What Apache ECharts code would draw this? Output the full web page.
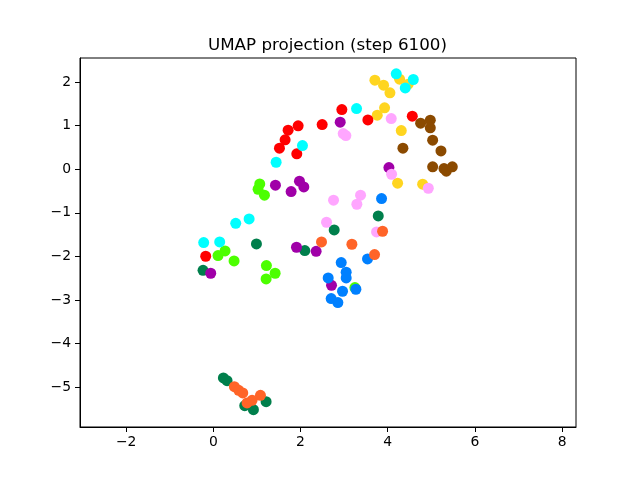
<!DOCTYPE html>
<html>
<head>
<meta charset="utf-8">
<script src="https://cdn.jsdelivr.net/npm/echarts@6/dist/echarts.min.js"></script>
<style>html,body{margin:0;padding:0;background:#fff}#c{width:640px;height:480px}</style>
</head>
<body>
<div id="c"></div>
<script>
// Data (x, y)
var classLime = [[1.064,-0.336],[1.026,-0.459],[1.172,-0.596],[0.268,-1.873],[0.107,-1.98],[0.475,-2.102],[1.217,-2.21],[1.417,-2.385],[1.21,-2.515],[3.247,-2.714]];
var classDarkGreen = [[3.783,-1.07],[2.772,-1.391],[0.988,-1.713],[2.098,-1.865],[-0.237,-2.317],[0.23,-4.786],[0.314,-4.847],[0.72,-5.42],[0.919,-5.512],[1.21,-5.329]];
var classPurple = [[2.91,1.078],[4.028,0.038],[1.424,-0.367],[1.975,-0.275],[2.075,-0.405],[1.784,-0.512],[1.907,-1.789],[2.358,-1.881],[2.711,-2.661],[-0.061,-2.385]];
var classYellow = [[3.706,2.041],[3.905,1.927],[4.051,1.751],[4.273,2.064],[4.47,1.95],[3.928,1.407],[3.76,1.239],[4.311,0.887],[4.227,-0.321],[4.801,-0.344]];
var classPink = [[2.979,0.818],[3.04,0.772],[4.081,1.162],[4.089,-0.115],[4.931,-0.436],[2.757,-0.711],[3.377,-0.596],[3.292,-0.803],[2.596,-1.216],[3.744,-1.437]];
var classBrown = [[4.755,1.055],[4.977,1.124],[4.977,0.948],[5.031,0.665],[4.349,0.482],[5.222,0.42],[5.031,0.054],[5.291,0.015],[5.345,-0.046],[5.482,0.054]];
var classRed = [[2.948,1.368],[2.496,1.024],[1.945,0.994],[1.715,0.894],[1.646,0.673],[1.516,0.482],[1.914,0.352],[3.545,1.131],[4.564,1.216],[-0.176,-1.995]];
var classBlue = [[3.859,-0.673],[3.537,-2.057],[2.933,-2.141],[3.047,-2.362],[3.047,-2.492],[2.634,-2.492],[2.963,-2.798],[3.27,-2.752],[2.703,-2.966],[2.856,-3.058]];
var classOrange = [[2.481,-1.667],[3.178,-1.72],[3.882,-1.422],[3.698,-1.957],[0.482,-4.985],[0.582,-5.069],[0.674,-5.13],[0.773,-5.359],[0.888,-5.298],[1.08,-5.183]];
var classCyan = [[4.196,2.187],[4.587,2.057],[4.403,1.865],[3.285,1.391],[2.044,0.543],[1.44,0.16],[0.82,-1.14],[0.513,-1.239],[-0.222,-1.682],[0.145,-1.667]];

var xTicks = [-2, 0, 2, 4, 6, 8];
var yTicks = [-5, -4, -3, -2, -1, 0, 1, 2];

var seriesList = [
  {d: classLime, c: '#4cff00'},
  {d: classDarkGreen, c: '#007f4c'},
  {d: classPurple, c: '#a000a8'},
  {d: classYellow, c: '#ffd520'},
  {d: classPink, c: '#ffa6ff'},
  {d: classBrown, c: '#8b4a00'},
  {d: classRed, c: '#ff0000'},
  {d: classBlue, c: '#0080ff'},
  {d: classOrange, c: '#ff6428'},
  {d: classCyan, c: '#00ffff'}
];

var font = 'DejaVu Sans';
function fmt(v){ return String(v).replace('-', '\u2212'); }

var chart = echarts.init(document.getElementById('c'), null, {renderer: 'canvas'});
chart.setOption({
  animation: false,
  backgroundColor: '#fff',
  title: {
    text: 'UMAP projection (step 6100)',
    left: 203,
    top: 32,
    textStyle: {fontFamily: font, fontSize: 16.7, fontWeight: 'normal', color: '#000'}
  },
  grid: {left: 80, right: 64, top: 58, bottom: 53, show: true, borderColor: '#000', borderWidth: 1, backgroundColor: 'transparent'},
  xAxis: {
    type: 'value', min: -3.06, max: 8.32,
    splitLine: {show: false},
    axisLine: {show: true, onZero: false, lineStyle: {color: '#000', width: 1}},
    axisTick: {show: true, inside: false, length: 5, lineStyle: {color: '#000'}, customValues: xTicks},
    axisLabel: {show: true, margin: 8, color: '#000', fontFamily: font, fontSize: 13.9, customValues: xTicks,
      formatter: function(v){ return fmt(v); }}
  },
  yAxis: {
    type: 'value', min: -5.91, max: 2.55,
    splitLine: {show: false},
    axisLine: {show: true, onZero: false, lineStyle: {color: '#000', width: 1}},
    axisTick: {show: true, inside: false, length: 5, lineStyle: {color: '#000'}, customValues: yTicks},
    axisLabel: {show: true, margin: 9, color: '#000', fontFamily: font, fontSize: 13.9, customValues: yTicks,
      formatter: function(v){ return fmt(v); }}
  },
  series: seriesList.map(function(s){
    return {type: 'scatter', data: s.d, symbol: 'circle', symbolSize: 11,
      itemStyle: {color: s.c, opacity: 1}, emphasis: {disabled: true}};
  })
});
</script>
</body>
</html>
